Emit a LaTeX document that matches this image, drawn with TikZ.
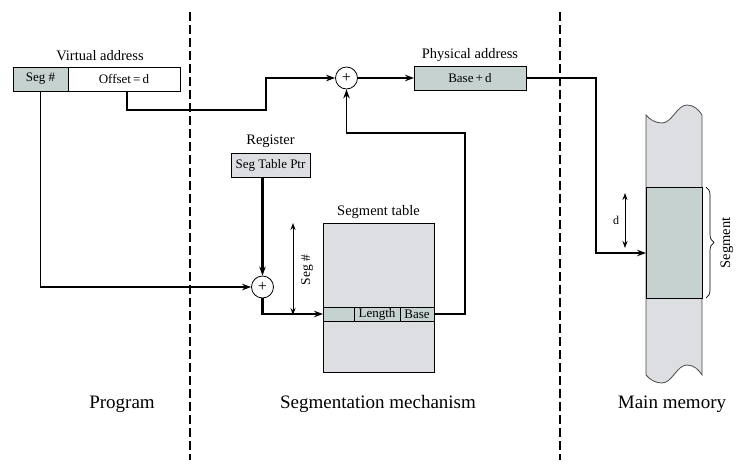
\documentclass[tikz,border=0pt]{standalone}
\usepackage{fontspec}
\setmainfont{Liberation Serif}
\usetikzlibrary{positioning,arrows.meta,decorations.pathreplacing,calc}

\definecolor{segteal}{RGB}{197,210,208}
\definecolor{tabgray}{RGB}{221,222,225}

\begin{document}
\begin{tikzpicture}[x=1pt,y=-1pt,
  >={Stealth[length=9pt,width=6.5pt]},
  cell/.style={draw,line width=0.8pt,inner sep=0pt,outer sep=0pt,minimum height=24pt,font=\fontsize{13}{15}\selectfont},
  adder/.style={draw,circle,line width=0.8pt,fill=white,minimum size=22pt,inner sep=0pt,font=\fontsize{16}{18}\selectfont},
  caption/.style={font=\fontsize{14.5}{16}\selectfont},
  region/.style={font=\fontsize{19}{22}\selectfont},
  link/.style={line width=1.5pt},
  boldlink/.style={line width=2.4pt},
  span/.style={line width=1pt,{Stealth[length=7pt,width=5pt]}-{Stealth[length=7pt,width=5pt]}},
  divider/.style={line width=2pt,dash pattern=on 9pt off 4pt}]

\useasboundingbox (0,0) rectangle (756,467);

% dividers
\draw[divider] (190,12) -- (190,460);
\draw[divider] (560,12) -- (560,460);

% virtual address
\node[caption] (vlabel) at (100,56) {Virtual address};
\node[cell,fill=segteal,minimum width=55pt] (vseg) at (40.5,79) {Seg \#};
\node[cell,fill=white,minimum width=112pt] (voff) at (124,79) {Offset\,=\,d};

% adders
\node[adder] (sum1) at (346.5,78) {+};
\node[adder] (sum2) at (262.5,287) {+};

% physical address
\node[caption] (plabel) at (470,55) {Physical address};
\node[cell,fill=segteal,minimum width=112pt] (phys) at (470,78) {Base\,+\,d};

% register
\node[caption] (rlabel) at (270.5,141) {Register};
\node[cell,fill=tabgray,minimum width=79pt] (reg) at (270.5,165) {Seg Table Ptr};

% segment table
\node[caption] (tlabel) at (378.5,212) {Segment table};
\node[cell,fill=tabgray,minimum width=111pt,minimum height=149pt] (segtab) at (378.5,297.5) {};
\node[cell,fill=segteal,minimum width=31pt,minimum height=14pt] (row) at (338.5,314) {};
\node[cell,fill=segteal,minimum width=46pt,minimum height=14pt] (len) at (377,314) {Length};
\node[cell,fill=segteal,minimum width=34pt,minimum height=14pt] (base) at (417,314) {Base};
\draw[span] (293,223) -- (293,315);
\node[caption,rotate=90,font=\fontsize{13.5}{15}\selectfont] (seglen) at (307,270) {Seg \#};

% main memory
\draw[fill=tabgray,draw=black!70,line width=0.8pt]
  (646,115) .. controls (650,120) and (656,123) .. (662,123)
  .. controls (672,123) and (677,105) .. (687,105)
  .. controls (694,105) and (699,110) .. (702,115) -- (702,375)
  .. controls (699,370) and (694,365) .. (687,365)
  .. controls (677,365) and (672,383) .. (662,383)
  .. controls (656,383) and (650,380) .. (646,375) -- cycle;
\node[cell,fill=segteal,minimum width=56pt,minimum height=111pt] (segblk) at (674,242.5) {};
\draw[line width=0.7pt,decorate,decoration={brace,amplitude=8pt}] ([xshift=4pt]segblk.north east) -- ([xshift=4pt]segblk.south east);
\node[caption,rotate=90] (seglabel) at (727,243) {Segment};
\draw[span] (625,193) -- (625,248);
\node[font=\fontsize{12}{14}\selectfont] (dlabel) at (616,220) {d};

% connectors
\coordinate (offbend) at (266,110);
\coordinate (memturn) at (596,253);
\coordinate (memin) at (646,253);
\coordinate (baseup) at (465,133);
\draw[link,->] ([xshift=3pt]voff.south) |- (offbend) |- (sum1.west);
\draw[boldlink,->] (sum1.east) -- (phys.west);
\draw[link,->] (phys.east) -| (memturn) -- (memin);
\draw[link,->] (vseg.south) |- (sum2.west);
\draw[boldlink,->] (sum2.north |- reg.south) -- (sum2.north);
\draw[boldlink,->] (sum2.south) |- (row.west);
\draw[link,->] (base.east) -| (baseup) -| (sum1.south);

% regions
\node[region] (prog) at (122,404) {Program};
\node[region] (mech) at (378,404) {Segmentation mechanism};
\node[region] (mem) at (672,404) {Main memory};

\end{tikzpicture}
\end{document}
